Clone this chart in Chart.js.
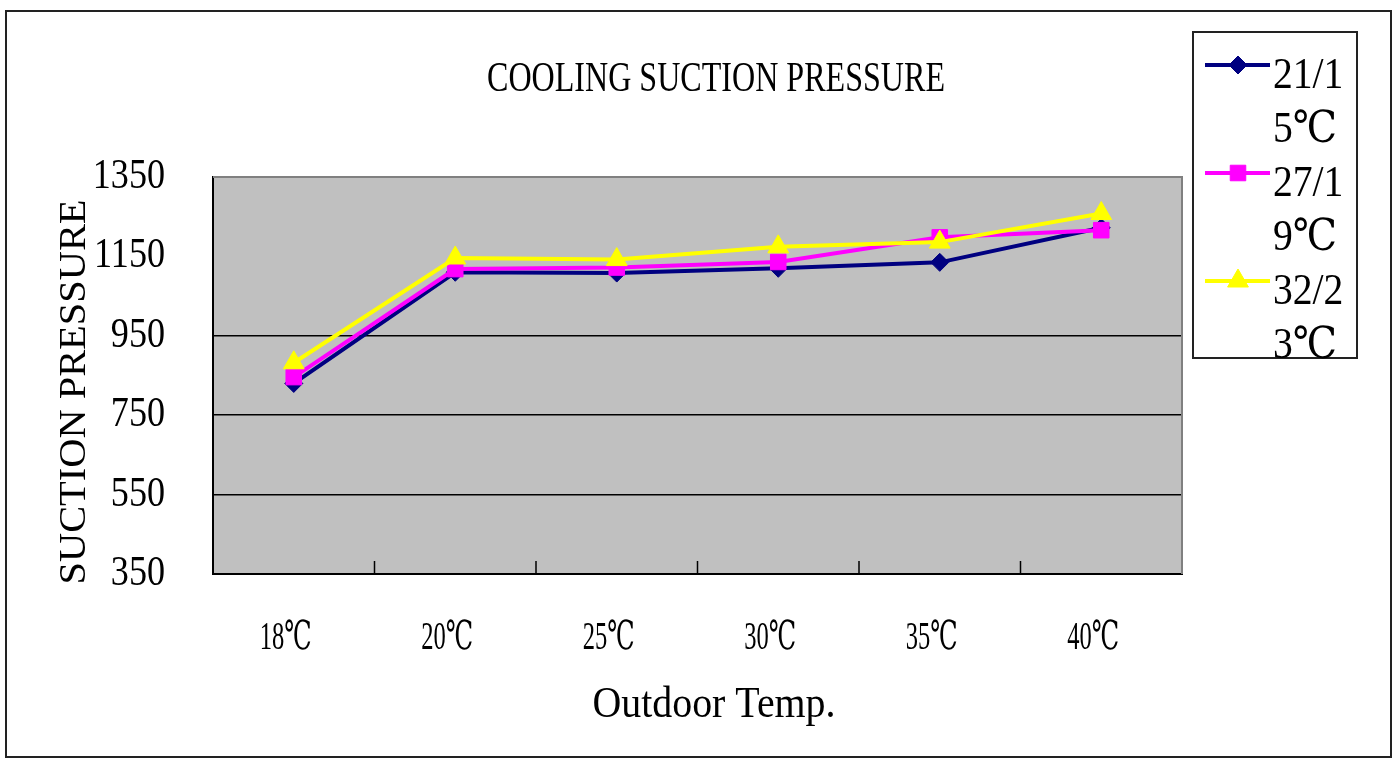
<!DOCTYPE html>
<html>
<head>
<meta charset="utf-8">
<script src="https://cdn.jsdelivr.net/npm/chart.js@4.4.1/dist/chart.umd.min.js"></script>
<style>
  html, body { margin: 0; padding: 0; background: #fff; }
  #wrap { width: 1395px; height: 762px; }
</style>
</head>
<body>
<div id="wrap"><canvas id="chart" width="1395" height="762"></canvas></div>
<script>
const categories = ["18℃", "20℃", "25℃", "30℃", "35℃", "40℃"];
const seriesNames = ["21/15℃", "27/19℃", "32/23℃"];
const navyValues = [830, 1110, 1108, 1120, 1135, 1222];
const magentaValues = [846, 1118, 1122, 1136, 1198, 1216];
const yellowValues = [882, 1146, 1142, 1174, 1186, 1258];
const yTicks = [350, 550, 750, 950, 1150, 1350];
const gridValues = [550, 750, 950];

const titleText = "COOLING SUCTION PRESSURE";
const xTitle = "Outdoor Temp.";
const yTitle = "SUCTION PRESSURE";

const colors = ["#000080", "#ff00ff", "#ffff00"];
const markers = ["rectRot", "rect", "triangle"];
const markerSizes = [9, 11, 12];
const FONT = '"Liberation Serif", "DejaVu Serif", serif';

// text in this chart is tall and narrow, so squeeze it horizontally
function squeezed(ctx, text, x, y, size, sx, align, angle) {
  ctx.save();
  ctx.font = size + "px " + FONT;
  ctx.fillStyle = "#000";
  ctx.textAlign = align || "center";
  ctx.textBaseline = "middle";
  ctx.translate(x, y);
  if (angle) ctx.rotate(angle);
  ctx.scale(sx, 1);
  ctx.fillText(text, 0, 0);
  ctx.restore();
}

function fitScale(ctx, text, size, width) {
  ctx.save();
  ctx.font = size + "px " + FONT;
  const w = ctx.measureText(text).width;
  ctx.restore();
  return width / w;
}

const framePlugin = {
  id: "frame",
  beforeDraw(chart) {
    const { ctx, chartArea: a } = chart;
    ctx.save();
    ctx.fillStyle = "#fff";
    ctx.fillRect(0, 0, chart.width, chart.height);
    ctx.strokeStyle = "#222";
    ctx.lineWidth = 2;
    ctx.strokeRect(6, 11, 1385, 746);
    ctx.fillStyle = "#c0c0c0";
    ctx.fillRect(a.left, a.top, a.right - a.left, a.bottom - a.top);
    ctx.restore();
  },
  afterDraw(chart) {
    const { ctx, chartArea: a } = chart;
    const xs = chart.scales.x, ys = chart.scales.y;

    // plot frame: grey on top and right
    ctx.save();
    ctx.strokeStyle = "#808080";
    ctx.lineWidth = 2;
    ctx.beginPath();
    ctx.moveTo(a.left, a.top);
    ctx.lineTo(a.right, a.top);
    ctx.lineTo(a.right, a.bottom);
    ctx.stroke();

    // category separators on the x axis
    ctx.strokeStyle = "#000";
    ctx.lineWidth = 1.5;
    for (let i = 0; i < categories.length - 1; i++) {
      const px = xs.getPixelForValue(i + 0.5);
      ctx.beginPath();
      ctx.moveTo(px, a.bottom);
      ctx.lineTo(px, a.bottom - 13);
      ctx.stroke();
    }
    ctx.restore();

    // title
    squeezed(ctx, titleText, 716, 80, 42, fitScale(ctx, titleText, 42, 458));

    // y tick labels
    yTicks.forEach(v => {
      squeezed(ctx, String(v), 165, ys.getPixelForValue(v), 42, 0.86, "right");
    });

    // x tick labels
    const sxCat = fitScale(ctx, categories[0], 40, 52);
    categories.forEach((c, i) => {
      squeezed(ctx, c, xs.getPixelForValue(i) - 8, 638, 40, sxCat);
    });

    // axis titles
    squeezed(ctx, xTitle, 714, 705, 44, fitScale(ctx, xTitle, 44, 243));
    squeezed(ctx, yTitle, 75, 392, 38, fitScale(ctx, yTitle, 38, 385), "center", -Math.PI / 2);

    // legend box
    ctx.save();
    ctx.strokeStyle = "#222";
    ctx.lineWidth = 2;
    ctx.strokeRect(1193, 32, 164, 326);
    ctx.restore();
    seriesNames.forEach((name, i) => {
      const ly = 65 + i * 108;
      ctx.save();
      ctx.strokeStyle = colors[i];
      ctx.lineWidth = 4;
      ctx.beginPath();
      ctx.moveTo(1205, ly);
      ctx.lineTo(1270, ly);
      ctx.stroke();
      ctx.fillStyle = colors[i];
      ctx.strokeStyle = colors[i];
      ctx.lineWidth = 1;
      Chart.helpers.drawPoint(ctx, { pointStyle: markers[i], radius: markerSizes[i], rotation: 0, borderWidth: 1 }, 1238, ly);
      ctx.restore();
      squeezed(ctx, name.slice(0, 4), 1273, ly + 11, 44, 0.9, "left");
      squeezed(ctx, name.slice(4), 1273, ly + 65, 44, 0.9, "left");
    });
  }
};

const datasets = [navyValues, magentaValues, yellowValues].map((vals, i) => ({
  label: seriesNames[i],
  data: vals,
  borderColor: colors[i],
  backgroundColor: colors[i],
  borderWidth: 4,
  pointStyle: markers[i],
  pointRadius: markerSizes[i],
  pointHoverRadius: markerSizes[i],
  pointBorderWidth: 1,
  tension: 0,
  order: 3 - i
}));

new Chart(document.getElementById("chart"), {
  type: "line",
  data: { labels: categories, datasets: datasets },
  options: {
    responsive: false,
    animation: false,
    layout: { padding: { left: 213, right: 213, top: 177, bottom: 188 } },
    plugins: { legend: { display: false }, title: { display: false }, tooltip: { enabled: false } },
    scales: {
      x: {
        offset: true,
        ticks: { display: false },
        grid: { display: false, drawTicks: false },
        border: { display: true, color: "#000", width: 2 }
      },
      y: {
        min: 350,
        max: 1350,
        ticks: { display: false, stepSize: 200 },
        grid: {
          drawTicks: false,
          color: ctx => gridValues.includes(ctx.tick.value) ? "#000" : "rgba(0,0,0,0)",
          lineWidth: 1.5
        },
        border: { display: true, color: "#000", width: 2 }
      }
    }
  },
  plugins: [framePlugin]
});
</script>
</body>
</html>
